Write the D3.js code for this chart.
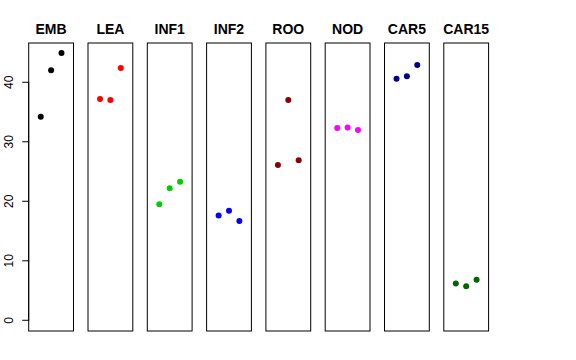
<!DOCTYPE html>
<html><head><meta charset="utf-8">
<script src="https://cdn.jsdelivr.net/npm/d3@7"></script>
<style>body{margin:0;background:#fff}</style>
</head><body>
<script>
const categories = ["EMB","LEA","INF1","INF2","ROO","NOD","CAR5","CAR15"];
const colors = ["#000000","#FF0000","#00CD00","#0000FF","#8B0000","#FF00FF","#00008B","#006400"];
const values = [
  [34.2, 42.0, 44.9],
  [37.2, 37.0, 42.4],
  [19.5, 22.2, 23.3],
  [17.6, 18.4, 16.7],
  [26.1, 37.0, 26.9],
  [32.3, 32.4, 32.0],
  [40.6, 41.0, 42.9],
  [6.2, 5.7, 6.8]
];
const yTicks = [0,10,20,30,40];

(function(){
const W=576,H=360;
const svg=d3.select("body").append("svg").attr("width",W).attr("height",H);
const pTop=43, pBottom=331, panelW=44.8, pitch=59.3, left0=28.7;
const y=d3.scaleLinear().domain([-1.8,46.6]).range([pBottom,pTop]);
const x=d3.scaleLinear().domain([-0.16,4.16]).range([0,panelW]);

categories.forEach((c,i)=>{
  const g=svg.append("g").attr("transform",`translate(${left0+i*pitch},0)`);
  g.append("rect").attr("x",0).attr("y",pTop).attr("width",panelW).attr("height",pBottom-pTop)
   .attr("fill","none").attr("stroke","#000").attr("stroke-width",1);
  g.append("text").attr("x",panelW/2).attr("y",34).attr("text-anchor","middle")
   .attr("font-family","Liberation Sans, Arial, sans-serif").attr("font-weight","bold")
   .attr("font-size",14).text(c);
  g.selectAll("circle").data(values[i]).enter().append("circle")
   .attr("cx",(d,j)=>x(j+1)).attr("cy",d=>y(d)).attr("r",3).attr("fill",colors[i]);
  if(i===0){
    const ax=g.append("g").call(d3.axisLeft(y).tickValues(yTicks).tickSize(7).tickFormat(d3.format("d")));
    ax.select(".domain").attr("d",`M0,${y(0)}V${y(40)}`);
    ax.selectAll(".tick text").each(function(d){
      d3.select(this).attr("font-family","Liberation Sans, Arial, sans-serif").attr("font-size",12)
       .attr("fill","#000").attr("text-anchor","middle").attr("dy",null)
       .attr("x",0).attr("y",0)
       .attr("transform",`translate(-16,0) rotate(-90)`);
    });
    ax.selectAll(".tick").each(function(d){
      d3.select(this).attr("transform",`translate(0.5,${y(d)})`);
    });
  }
});
})();
</script>
</body></html>
